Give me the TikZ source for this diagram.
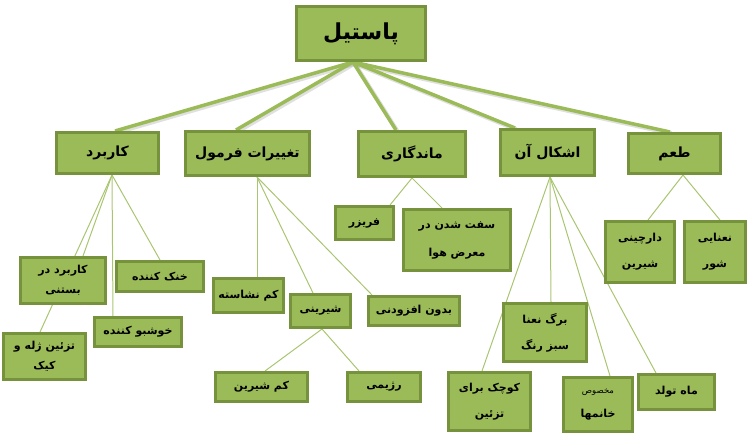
\documentclass[tikz,border=0pt]{standalone}
\usepackage{fontspec}
\newfontfamily\arabicfont[Script=Arabic]{DejaVu Sans}
\TeXXeTstate=1
\usetikzlibrary{backgrounds,calc}
\definecolor{boxfill}{HTML}{9BBB59}
\definecolor{boxline}{HTML}{76923C}
\definecolor{linkc}{HTML}{9BBB59}
\newcommand{\fa}[1]{\beginR #1\endR}
\begin{document}
\begin{tikzpicture}[x=1pt,y=-1pt,
  box/.style={draw=boxline, fill=boxfill, line width=3pt, inner sep=0pt, align=center,
    font=\arabicfont\bfseries\fontsize{11}{13}\selectfont},
  lvltwo/.style={box, font=\arabicfont\bfseries\fontsize{14}{16}\selectfont},
  mainlink/.style={draw=linkc, line width=3.5pt},
  mainshadow/.style={draw=black, opacity=0.12, line width=4.5pt},
  sublink/.style={draw=linkc!85!white, line width=1pt}]
\useasboundingbox (0,0) rectangle (750,433);

% root
\node[box, font=\arabicfont\bfseries\fontsize{22}{26}\selectfont, minimum width=129pt, minimum height=54pt] (root) at (361,33.5) {\fa{پاستیل}};

% level two
\node[lvltwo, minimum width=102pt, minimum height=41pt] (karbord) at (107.5,153) {\fa{کاربرد}};
\node[lvltwo, minimum width=124pt, minimum height=44pt] (taghirat) at (247.5,153.5) {\fa{تغییرات فرمول}};
\node[lvltwo, minimum width=107pt, minimum height=45pt] (mandegari) at (412,154) {\fa{ماندگاری}};
\node[lvltwo, minimum width=94pt, minimum height=46pt] (ashkal) at (547.5,152.5) {\fa{اشکال آن}};
\node[lvltwo, minimum width=92pt, minimum height=40pt] (taam) at (674.5,153.5) {\fa{طعم}};

% leaves
\node[box, minimum width=85pt, minimum height=46pt] (bastani) at (63,280.5) {\fa{کاربرد در}\\[7pt]\fa{بستنی}};
\node[box, minimum width=87pt, minimum height=30pt] (khonak) at (160,276.5) {\fa{خنک کننده}};
\node[box, minimum width=87pt, minimum height=29pt] (khoshbu) at (138,332) {\fa{خوشبو کننده}};
\node[box, minimum width=82pt, minimum height=46pt] (tazin) at (44.5,356.5) {\fa{تزئین ژله و}\\[7pt]\fa{کیک}};
\node[box, minimum width=70pt, minimum height=34pt] (neshasteh) at (248.5,295.5) {\fa{کم نشاسته}};
\node[box, minimum width=60pt, minimum height=33pt] (shirini) at (320.5,311) {\fa{شیرینی}};
\node[box, minimum width=91pt, minimum height=29pt] (bedun) at (414,311) {\fa{بدون افزودنی}};
\node[box, minimum width=92pt, minimum height=29pt] (kamshirin) at (261.5,387) {\fa{کم شیرین}};
\node[box, minimum width=73pt, minimum height=29pt] (rejimi) at (384,387) {\fa{رژیمی}};
\node[box, minimum width=58pt, minimum height=33pt] (freeze) at (364.5,223) {\fa{فریزر}};
\node[box, minimum width=107pt, minimum height=61pt] (seft) at (457,240) {\fa{سفت شدن در}\\[15pt]\fa{معرض هوا}};
\node[box, minimum width=83pt, minimum height=58pt] (barg) at (545,332.5) {\fa{برگ نعنا}\\[13pt]\fa{سبز رنگ}};
\node[box, minimum width=82pt, minimum height=58pt] (kuchak) at (489.5,401.5) {\fa{کوچک برای}\\[13pt]\fa{تزئین}};
\node[box, minimum width=69pt, minimum height=54pt] (makhsus) at (598,404.5) {{\mdseries\fontsize{8.5}{10}\selectfont\fa{مخصوص}}\\[11pt]\fa{خانمها}};
\node[box, minimum width=76pt, minimum height=35pt] (mah) at (676.5,392) {\fa{ماه تولد}};
\node[box, minimum width=69pt, minimum height=61pt] (darchini) at (640,252) {\fa{دارچینی}\\[13pt]\fa{شیرین}};
\node[box, minimum width=61pt, minimum height=61pt] (namaki) at (715,252) {\fa{نعنایی}\\[13pt]\fa{شور}};

\begin{pgfonlayer}{background}
  \coordinate (hub0) at ([xshift=-8pt]root.south);
  \foreach \n/\s in {karbord/7.5, taghirat/-11.5, mandegari/-16, ashkal/-32.5, taam/-4.5} {
    \draw[mainshadow] ([shift={(1.5,1.5)}]hub0) -- ([shift={(\s+1.5,1.5)}]\n.north);
  }
  \foreach \n/\s in {karbord/7.5, taghirat/-11.5, mandegari/-16, ashkal/-32.5, taam/-4.5} {
    \draw[mainlink] (hub0) -- ([xshift=\s pt]\n.north);
  }
  % karbord
  \coordinate (hubA) at ([xshift=4.5pt]karbord.south);
  \draw[sublink] (hubA) -- ([xshift=20pt]bastani.north);
  \draw[sublink] (hubA) -- ([xshift=-4.5pt]tazin.north);
  \draw[sublink] (hubA) -- ([xshift=-25pt]khoshbu.north);
  \draw[sublink] (hubA) -- (khonak.north);
  % taghirat
  \coordinate (hubB) at ([xshift=9.5pt]taghirat.south);
  \draw[sublink] (hubB) -- ([xshift=8.5pt]neshasteh.north);
  \draw[sublink] (hubB) -- ([xshift=-7.5pt]shirini.north);
  \draw[sublink] (hubB) -- ([xshift=-42pt]bedun.north);
  % shirini
  \coordinate (hubC) at ([xshift=1.5pt]shirini.south);
  \draw[sublink] (hubC) -- ([xshift=3.5pt]kamshirin.north);
  \draw[sublink] (hubC) -- ([xshift=-25pt]rejimi.north);
  % mandegari
  \coordinate (hubD) at (mandegari.south);
  \draw[sublink] (hubD) -- ([xshift=25.5pt]freeze.north);
  \draw[sublink] (hubD) -- ([xshift=-15pt]seft.north);
  % ashkal
  \coordinate (hubE) at ([xshift=2.5pt]ashkal.south);
  \draw[sublink] (hubE) -- ([xshift=-7.5pt]kuchak.north);
  \draw[sublink] (hubE) -- ([xshift=6pt]barg.north);
  \draw[sublink] (hubE) -- ([xshift=12pt]makhsus.north);
  \draw[sublink] (hubE) -- ([xshift=-20.5pt]mah.north);
  % taam
  \coordinate (hubF) at ([xshift=8.5pt]taam.south);
  \draw[sublink] (hubF) -- ([xshift=8pt]darchini.north);
  \draw[sublink] (hubF) -- ([xshift=5pt]namaki.north);
\end{pgfonlayer}
\end{tikzpicture}
\end{document}
